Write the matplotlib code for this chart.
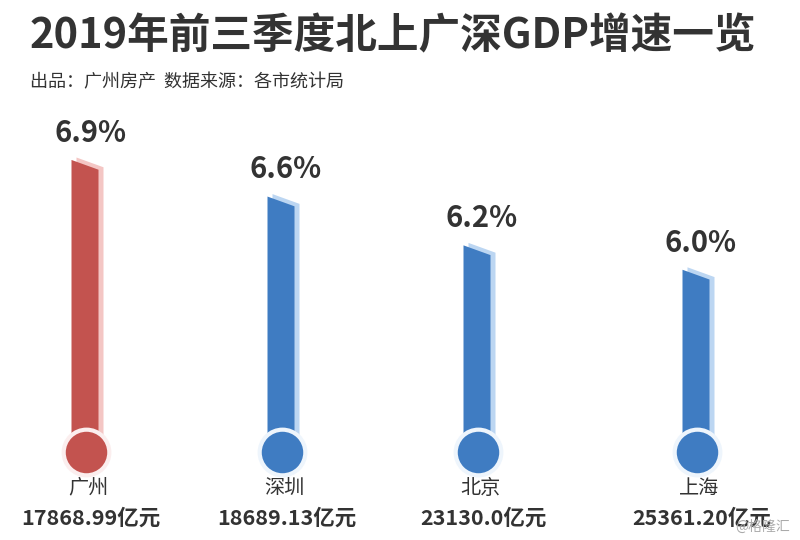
import matplotlib.pyplot as plt
from matplotlib.patches import Polygon

plt.rcParams['font.family'] = ['Noto Sans CJK SC', 'DejaVu Sans']

cities = ['广州', '深圳', '北京', '上海']
growth = [6.9, 6.6, 6.2, 6.0]
gdp = ['17868.99亿元', '18689.13亿元', '23130.0亿元', '25361.20亿元']

# layout (pixels across, value units up)
xpos = [85, 281, 477, 696]
colors = ['#c3534f', '#3f7cc2', '#3f7cc2', '#3f7cc2']
shades = ['#f4c6c4', '#bcd6f2', '#bcd6f2', '#bcd6f2']
rings = ['#fbeeee', '#eef5fc', '#eef5fc', '#eef5fc']
base = 4.48
bw = 27
drop = 0.08

fig = plt.figure(figsize=(8, 5.4), dpi=100)
ax = fig.add_axes([0, 0, 1, 1])
ax.set_xlim(0, 800)
ax.set_ylim(3.785, 8.211)
ax.axis('off')

for x, v, c, s, r in zip(xpos, growth, colors, shades, rings):
    # light shadow behind the bar
    sx = x + 5
    sh = Polygon([(sx - bw / 2, base), (sx + bw / 2, base),
                  (sx + bw / 2, v - drop + 0.02), (sx - bw / 2, v + 0.02)],
                 closed=True, facecolor=s, edgecolor='none', zorder=1)
    ax.add_patch(sh)
    bar = Polygon([(x - bw / 2, base), (x + bw / 2, base),
                   (x + bw / 2, v - drop), (x - bw / 2, v)],
                  closed=True, facecolor=c, edgecolor='none', zorder=2)
    ax.add_patch(bar)
    ax.scatter([x + 1], [base + 0.03], s=1080, color=c, edgecolors=r,
               linewidths=3, zorder=3)
    ax.text(x + 5, v + 0.1, f'{v:.1f}%', ha='center', va='bottom', fontsize=21,
            fontweight='bold', color='#333333', zorder=4)

for x, name, g in zip(xpos, cities, gdp):
    ax.text(x + 3, 4.21, name, ha='center', va='center', fontsize=14.5, color='#333333')
    ax.text(x + 6, 3.965, g, ha='center', va='center', fontsize=15.5,
            fontweight='bold', color='#333333')

fig.text(0.0375, 0.933, '2019年前三季度北上广深GDP增速一览', ha='left', va='center',
         fontsize=30, fontweight='bold', color='#333333')
fig.text(0.0375, 0.848, '出品：广州房产  数据来源：各市统计局', ha='left', va='center',
         fontsize=13, color='#333333')
fig.text(0.988, 0.025, '@格隆汇', ha='right', va='center', fontsize=10, color='#aaaaaa')

fig.savefig('out.png', dpi=100, facecolor='white')
